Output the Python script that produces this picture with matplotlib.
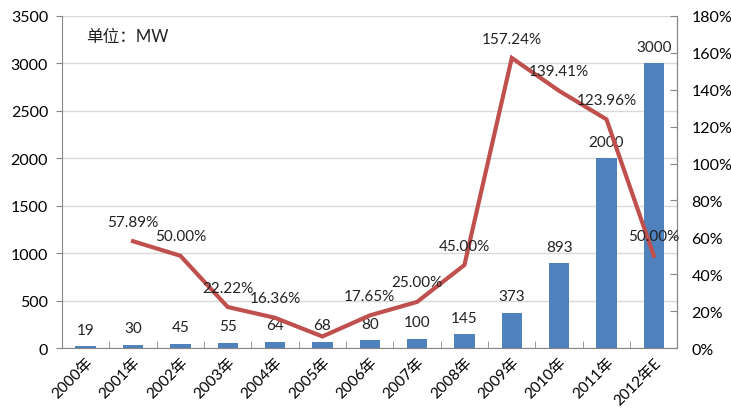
import matplotlib
matplotlib.use("Agg")
import matplotlib.pyplot as plt
from matplotlib.ticker import FuncFormatter, MultipleLocator

plt.rcParams['font.family'] = ['Lato', 'Noto Sans CJK SC', 'DejaVu Sans']

years = ["2000年", "2001年", "2002年", "2003年", "2004年", "2005年", "2006年",
         "2007年", "2008年", "2009年", "2010年", "2011年", "2012年E"]
capacity = [19, 30, 45, 55, 64, 68, 80, 100, 145, 373, 893, 2000, 3000]
growth = [None, 57.89, 50.00, 22.22, 16.36, 6.25, 17.65, 25.00, 45.00,
          157.24, 139.41, 123.96, 50.00]
growth_labels = [None, "57.89%", "50.00%", "22.22%", "16.36%", None, "17.65%",
                 "25.00%", "45.00%", "157.24%", "139.41%", "123.96%", "50.00%"]

bar_color = "#4F81BD"
line_color = "#C0504D"
grid_color = "#D9D9D9"
spine_color = "#868686"

fig = plt.figure(figsize=(7.31, 4.14), dpi=100)
ax = fig.add_axes([0.0848, 0.157, 0.842, 0.802])
x = list(range(len(years)))

ax.bar(x, capacity, width=0.43, color=bar_color, zorder=2)
ax.set_xlim(-0.5, len(years) - 0.5)
ax.set_ylim(0, 3500)
ax.yaxis.set_major_locator(MultipleLocator(500))
ax.grid(axis='y', color=grid_color, linewidth=1, zorder=0)
ax.set_axisbelow(True)
for s in ['top']:
    ax.spines[s].set_visible(False)
for s in ['left', 'bottom', 'right']:
    ax.spines[s].set_color(spine_color)
ax.tick_params(axis='y', labelsize=11.5, length=4, color=spine_color, pad=6)
ax.set_xticks(x)
ax.set_xticklabels(years, rotation=45, ha='right', rotation_mode='anchor', fontsize=11)
ax.tick_params(axis='x', length=0, pad=5)
ax.set_xticks([i + 0.5 for i in range(len(years) - 1)], minor=True)
ax.tick_params(axis='x', which='minor', direction='in', length=5, color=spine_color)

for xi, v in zip(x, capacity):
    ax.annotate(str(v), (xi, v), xytext=(0, 12), textcoords='offset points',
                ha='center', va='center', fontsize=11, color='#222222', zorder=5)

ax.text(0.04, 0.94, "单位：MW", transform=ax.transAxes, fontsize=12,
        ha='left', va='center', color='#222222')

ax2 = ax.twinx()
ax2.set_ylim(0, 180)
ax2.yaxis.set_major_locator(MultipleLocator(20))
ax2.yaxis.set_major_formatter(FuncFormatter(lambda v, p: f"{v:.0f}%"))
ax2.tick_params(axis='y', labelsize=11.5, direction='in', length=5, color=spine_color, pad=10)
for s in ['top', 'left', 'bottom']:
    ax2.spines[s].set_visible(False)
ax2.spines['right'].set_color(spine_color)

lx = [xi for xi, g in zip(x, growth) if g is not None]
ly = [g for g in growth if g is not None]
ax2.plot(lx, ly, color=line_color, linewidth=3, zorder=4, solid_joinstyle='miter')
for xi, g, lab in zip(x, growth, growth_labels):
    if lab:
        ax2.annotate(lab, (xi, g), xytext=(0, 14), textcoords='offset points',
                     ha='center', va='center', fontsize=11, color='#222222', zorder=6)

fig.savefig("out.png", dpi=100)
